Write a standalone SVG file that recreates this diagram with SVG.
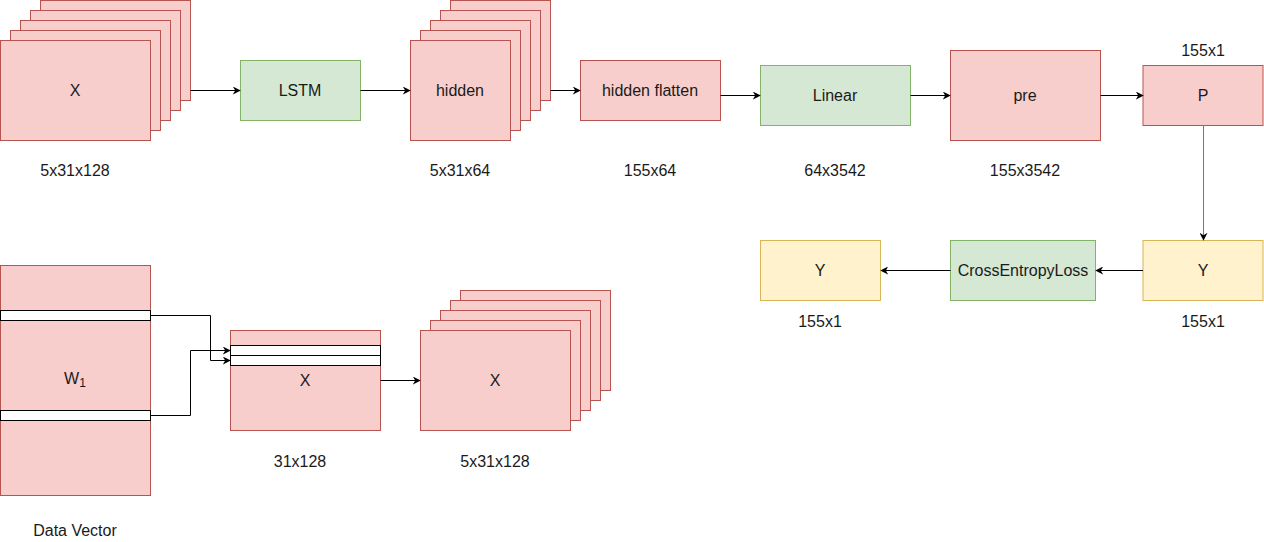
<svg xmlns="http://www.w3.org/2000/svg" width="1264" height="542" viewBox="0 0 1264 542">
<style>
.r{fill:#f8cecc;stroke:#b85450;stroke-width:1}
.g{fill:#d5e8d4;stroke:#82b366;stroke-width:1}
.y{fill:#fff2cc;stroke:#d6b656;stroke-width:1}
.w{fill:#ffffff;stroke:#000000;stroke-width:1}
.t{font-family:"Liberation Sans",Arial,sans-serif;font-size:16px;fill:#1a1a1a;text-anchor:middle;dominant-baseline:central}
.c{fill:none;stroke:#000;stroke-width:1;marker-end:url(#a)}
</style>
<defs>
<marker id="a" viewBox="0 0 10 10" refX="9" refY="5" markerWidth="8" markerHeight="8" markerUnits="userSpaceOnUse" orient="auto">
<path d="M0,0 L10,5 L0,10 L3,5 Z" fill="#000"/>
</marker>
</defs>
<rect width="1264" height="542" fill="#ffffff"/>
<g id="x-stack">
<rect class="r" x="40.5" y="0.5" width="150" height="100"/>
<rect class="r" x="30.5" y="10.5" width="150" height="100"/>
<rect class="r" x="20.5" y="20.5" width="150" height="100"/>
<rect class="r" x="10.5" y="30.5" width="150" height="100"/>
<rect class="r" x="0.5" y="40.5" width="150" height="100"/>
<text class="t" x="75" y="90">X</text>
</g>
<g id="lstm"><rect class="g" x="240.5" y="60.5" width="120" height="60"/><text class="t" x="300" y="90">LSTM</text></g>
<g id="hidden-stack">
<rect class="r" x="450.5" y="0.5" width="100" height="100"/>
<rect class="r" x="440.5" y="10.5" width="100" height="100"/>
<rect class="r" x="430.5" y="20.5" width="100" height="100"/>
<rect class="r" x="420.5" y="30.5" width="100" height="100"/>
<rect class="r" x="410.5" y="40.5" width="100" height="100"/>
<text class="t" x="460" y="90">hidden</text>
</g>
<g id="hidden-flatten"><rect class="r" x="580.5" y="60.5" width="140" height="60"/><text class="t" x="650" y="90">hidden flatten</text></g>
<g id="linear"><rect class="g" x="760.5" y="65.5" width="150" height="60"/><text class="t" x="835" y="95">Linear</text></g>
<g id="pre"><rect class="r" x="950.5" y="50.5" width="150" height="90"/><text class="t" x="1025" y="95">pre</text></g>
<g id="p"><rect class="r" x="1143" y="65.5" width="120" height="60"/><text class="t" x="1203" y="95">P</text></g>
<g id="y-right"><rect class="y" x="1143" y="240.5" width="120" height="60"/><text class="t" x="1203" y="270">Y</text></g>
<g id="ce"><rect class="g" x="950.5" y="240.5" width="145" height="60"/><text class="t" x="1023" y="270">CrossEntropyLoss</text></g>
<g id="y-left"><rect class="y" x="760.5" y="240.5" width="120" height="60"/><text class="t" x="820" y="270">Y</text></g>
<g id="w1">
<rect class="r" x="0.5" y="265.5" width="150" height="230"/>
<rect class="w" x="0.5" y="310.5" width="150" height="10"/>
<rect class="w" x="0.5" y="410.5" width="150" height="10"/>
<text class="t" x="75" y="378">W<tspan font-size="12" dy="5">1</tspan></text>
</g>
<g id="x-mid">
<rect class="r" x="230.5" y="330.5" width="150" height="100"/>
<rect class="w" x="230.5" y="345.5" width="150" height="10"/>
<rect class="w" x="230.5" y="355.5" width="150" height="10"/>
<text class="t" x="305" y="380">X</text>
</g>
<g id="x-stack-bottom">
<rect class="r" x="460.5" y="290.5" width="150" height="100"/>
<rect class="r" x="450.5" y="300.5" width="150" height="100"/>
<rect class="r" x="440.5" y="310.5" width="150" height="100"/>
<rect class="r" x="430.5" y="320.5" width="150" height="100"/>
<rect class="r" x="420.5" y="330.5" width="150" height="100"/>
<text class="t" x="495" y="380">X</text>
</g>
<g id="labels">
<text class="t" x="75" y="170">5x31x128</text>
<text class="t" x="460" y="170">5x31x64</text>
<text class="t" x="650" y="170">155x64</text>
<text class="t" x="835" y="170">64x3542</text>
<text class="t" x="1025" y="170">155x3542</text>
<text class="t" x="1203" y="50">155x1</text>
<text class="t" x="1203" y="321">155x1</text>
<text class="t" x="820" y="321">155x1</text>
<text class="t" x="300" y="461">31x128</text>
<text class="t" x="495" y="461">5x31x128</text>
<text class="t" x="75" y="530">Data Vector</text>
</g>
<g id="connectors">
<path class="c" d="M190.5,90.5 H240"/>
<path class="c" d="M360.5,90.5 H410"/>
<path class="c" d="M550.5,90.5 H580"/>
<path class="c" d="M720.5,95.5 H760"/>
<path class="c" d="M910.5,95.5 H950"/>
<path class="c" d="M1100.5,95.5 H1143"/>
<path class="c" d="M1203.5,125.5 V240" style="stroke:#777"/>
<path class="c" d="M1143,270.5 H1096"/>
<path class="c" d="M950.5,270.5 H881"/>
<path class="c" d="M150.5,315.5 H210.5 V360.5 H230"/>
<path class="c" d="M150.5,415.5 H190.5 V350.5 H230"/>
<path class="c" d="M380.5,380.5 H420"/>
</g>
</svg>
